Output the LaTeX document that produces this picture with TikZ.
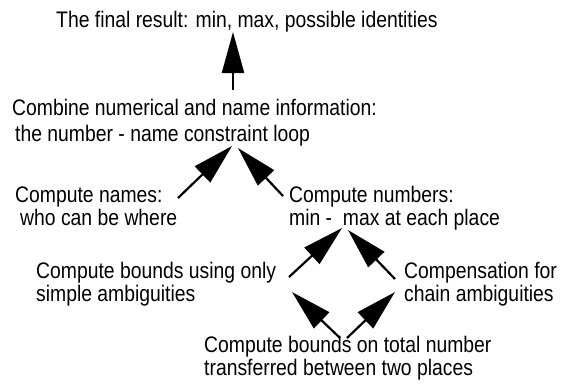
\documentclass[tikz,border=0pt]{standalone}
\usepackage{fontspec}
\setmainfont[FakeStretch=0.86]{Liberation Sans}
\usetikzlibrary{positioning, arrows.meta}

\begin{document}
\begin{tikzpicture}[
  x=1pt, y=-1pt,
  txt/.style={inner sep=0pt, anchor=base west, align=left, font=\fontsize{22.5}{23}\selectfont},
  arrow/.style={-{Triangle[length=41pt, width=22pt]}, line width=2.2pt}
]
\useasboundingbox (0,0) rectangle (571,386);

% Top: result
\node[txt] (final) at (56,27) {The final result: min, max, possible identities};

% Combination step
\node[txt, font=\fontsize{22.5}{26}\selectfont, below right=114pt and -44pt of final.base west, anchor=base west] (combine)
  {Combine numerical and name information:\\\hspace{3pt}the number - name constraint loop};

% Names and numbers
\node[txt, below right=84pt and 3pt of combine.base west, anchor=base west] (names)
  {Compute names:\\\hspace{5pt}who can be where};
\node[txt, right=274pt of names.base west, anchor=base west] (numbers)
  {Compute numbers:\\min -\ \ max at each place};

% Bounds
\node[txt, below right=76pt and 21pt of names.base west, anchor=base west] (simple)
  {Compute bounds using only\\simple ambiguities};
\node[txt, right=368pt of simple.base west, anchor=base west] (chain)
  {Compensation for\\chain ambiguities};
\node[txt, below right=74pt and 168pt of simple.base west, anchor=base west] (total)
  {Compute bounds on total number\\transferred between two places};

% Arrows
\draw[arrow] ([shift={(221,-51)}]combine.base west) -- ([shift={(177,5)}]final.base west);
\draw[arrow] ([shift={(163,-27)}]names.base west) -- ([shift={(220,5)}]combine.base west);
\draw[arrow] ([shift={(-6,-29)}]numbers.base west) -- ([shift={(226,7)}]combine.base west);
\draw[arrow] ([shift={(253,-24)}]simple.base west) -- ([shift={(53,3)}]numbers.base west);
\draw[arrow] ([shift={(-9,-22)}]chain.base west) -- ([shift={(59,5)}]numbers.base west);
\draw[arrow] ([shift={(136,-37)}]total.base west) -- ([shift={(256,-9)}]simple.base west);
\draw[arrow] ([shift={(143,-37)}]total.base west) -- ([shift={(-9,-9)}]chain.base west);
\end{tikzpicture}
\end{document}
